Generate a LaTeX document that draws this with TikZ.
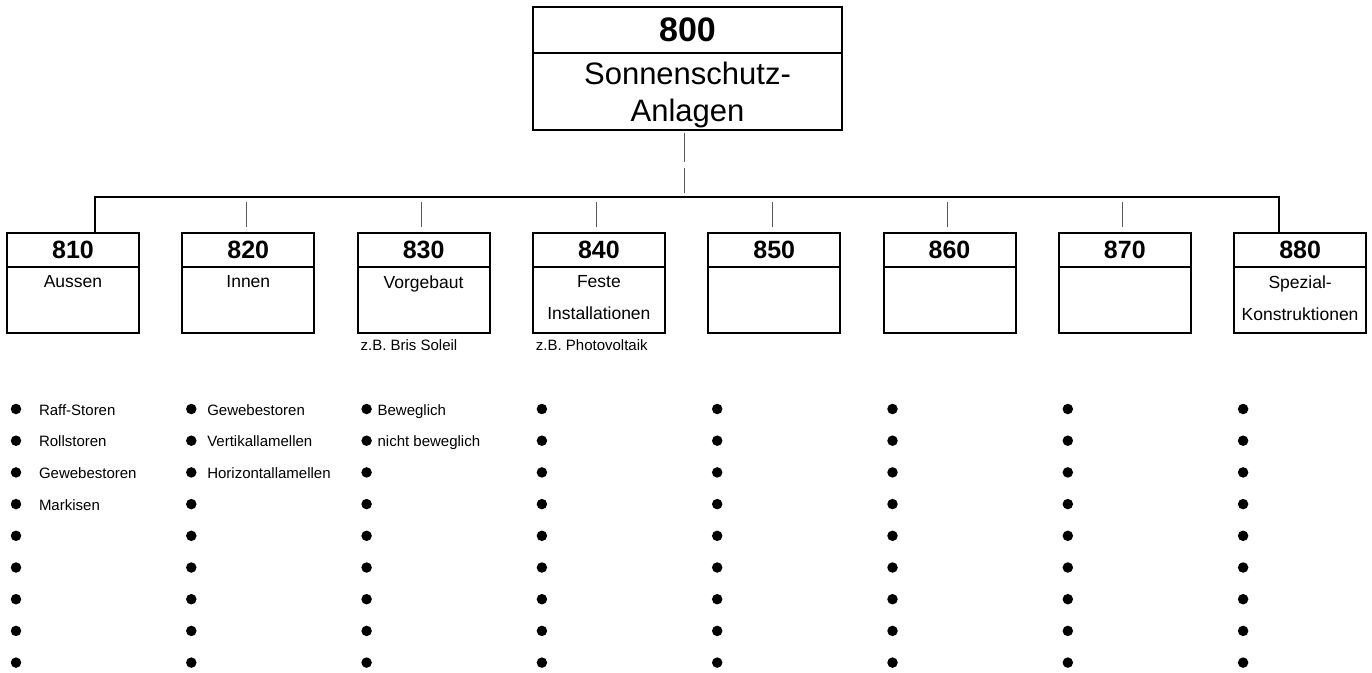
\documentclass[tikz,border=0pt]{standalone}
\usepackage{fontspec}
\setmainfont{Liberation Sans}
\usetikzlibrary{calc,positioning}

\begin{document}
\begin{tikzpicture}[x=1pt,y=-1pt]
  \tikzstyle{every node}=[inner sep=0pt,outer sep=0pt]
  \tikzstyle{head}=[draw,line width=2pt,minimum width=132pt,minimum height=34pt,font=\fontsize{25}{25}\selectfont\bfseries]
  \tikzstyle{body}=[draw,line width=2pt,minimum width=132pt,minimum height=66pt]
  \tikzstyle{boxtext}=[anchor=north,align=center,font=\fontsize{17.5}{32}\selectfont]
  \tikzstyle{tick}=[line width=1pt,black!65]
  \tikzstyle{bus}=[line width=1.5pt]
  \tikzstyle{dot}=[circle,fill,minimum size=10.5pt]
  \tikzstyle{item}=[anchor=base west,font=\fontsize{15}{15}\selectfont]

  \useasboundingbox (0,0) rectangle (1372,672);

  % top box
  \node[head,minimum width=309pt,minimum height=46pt,font=\fontsize{34}{34}\selectfont\bfseries] (h800) at (687.5,30) {800};
  \node[body,minimum width=309pt,minimum height=77pt,below=0pt of h800] (b800) {};
  \node[boxtext,font=\fontsize{31}{37}\selectfont] (t800) at ($(b800.north)+(0,9)$) {Sonnenschutz-\\Anlagen};
  \draw[tick] ($(b800.south)+(-3.5,3)$) -- +(0,29);
  \draw[tick] ($(b800.south)+(-3.5,38)$) -- +(0,25);

  % second level
  \foreach \n/\t [count=\i from 0] in {810/Aussen,820/Innen,830/Vorgebaut,840/{Feste\\Installationen},850/{},860/{},870/{},880/{Spezial-\\Konstruktionen}} {
    \node[head] (h\n) at (73+175.3*\i,250) {\n};
    \node[body,below=0pt of h\n] (b\n) {};
    \node[boxtext] (t\n) at ($(b\n.north)+(0,8.5)$) {\t};
  }
  \node[item] (zb830) at ($(b830.south west)+(3,17)$) {z.B. Bris Soleil};
  \node[item] (zb840) at ($(b840.south west)+(3,17)$) {z.B. Photovoltaik};

  \coordinate (busl) at (95,197);
  \coordinate (busr) at (1279,197);
  \draw[bus] (busl |- h810.north) -- (busl) -- (busr) -- (busr |- h880.north);
  \foreach \n in {820,830,...,870}
    \draw[tick] ($(h\n.north)+(-2,-31)$) -- ($(h\n.north)+(-2,-6)$);

  % bullet lists
  \foreach \c in {0,...,7}
    \foreach \r in {0,...,8}
      \node[dot] (d\c-\r) at (16+175.3*\c,409+31.7*\r) {};
  \foreach \t [count=\r from 0] in {Raff-Storen,Rollstoren,Gewebestoren,Markisen}
    \node[item] (a\r) at ($(d0-\r)+(23,6)$) {\t};
  \foreach \t [count=\r from 0] in {Gewebestoren,Vertikallamellen,Horizontallamellen}
    \node[item] (i\r) at ($(d1-\r)+(16,6)$) {\t};
  \foreach \t [count=\r from 0] in {Beweglich,nicht beweglich}
    \node[item] (v\r) at ($(d2-\r)+(11,6)$) {\t};

\end{tikzpicture}
\end{document}
